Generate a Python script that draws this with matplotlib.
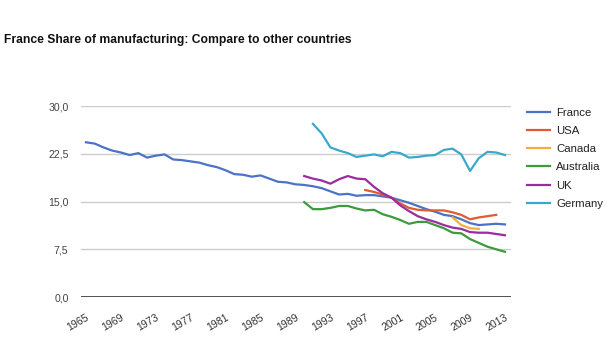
import matplotlib
matplotlib.use("Agg")
import matplotlib.pyplot as plt
from matplotlib.lines import Line2D
from matplotlib.ticker import FuncFormatter

plt.rcParams['font.family'] = ['Liberation Sans', 'DejaVu Sans']

# Manufacturing share of value added (%), by year
france_years = list(range(1965, 2014))
france = [24.3, 24.1, 23.5, 23.0, 22.7, 22.3, 22.6, 21.9, 22.2, 22.4,
          21.6, 21.5, 21.3, 21.1, 20.7, 20.4, 19.9, 19.3, 19.2, 18.9,
          19.1, 18.6, 18.1, 18.0, 17.7, 17.6, 17.4, 17.1, 16.6, 16.1,
          16.2, 15.9, 16.0, 16.0, 15.8, 15.6, 15.2, 14.8, 14.3, 13.8,
          13.4, 12.9, 12.7, 12.2, 11.6, 11.3, 11.4, 11.5, 11.4]

usa_years = list(range(1997, 2013))
usa = [16.8, 16.5, 16.1, 15.6, 14.7, 14.0, 13.7, 13.6, 13.6, 13.6,
       13.3, 12.9, 12.2, 12.5, 12.7, 12.9]

canada_years = list(range(2007, 2011))
canada = [12.5, 11.3, 10.8, 10.7]

australia_years = list(range(1990, 2014))
australia = [14.9, 13.8, 13.8, 14.0, 14.3, 14.3, 13.9, 13.6, 13.7, 13.0,
             12.6, 12.1, 11.5, 11.8, 11.8, 11.3, 10.8, 10.1, 10.0, 9.1,
             8.5, 7.9, 7.5, 7.1]

uk_years = list(range(1990, 2014))
uk = [19.0, 18.6, 18.3, 17.8, 18.5, 19.0, 18.6, 18.5, 17.3, 16.3,
      15.6, 14.4, 13.5, 12.7, 12.2, 11.8, 11.3, 10.9, 10.7, 10.2,
      10.1, 10.1, 9.9, 9.7]

germany_years = list(range(1991, 2014))
germany = [27.2, 25.7, 23.5, 23.0, 22.6, 22.0, 22.2, 22.4, 22.1, 22.8,
           22.6, 21.9, 22.0, 22.2, 22.3, 23.1, 23.3, 22.4, 19.8, 21.8,
           22.8, 22.7, 22.3]

series = [
    ("France", france_years, france, "#4a72c9"),
    ("USA", usa_years, usa, "#df5b31"),
    ("Canada", canada_years, canada, "#f5ad42"),
    ("Australia", australia_years, australia, "#3c9b3c"),
    ("UK", uk_years, uk, "#9b2ba0"),
    ("Germany", germany_years, germany, "#3aa8cd"),
]

fig = plt.figure(figsize=(6.16, 3.46), dpi=100)
ax = fig.add_axes([0.1315, 0.1416, 0.698, 0.552])

for name, yrs, vals, col in series:
    ax.plot(yrs, vals, color=col, lw=1.6, label=name, solid_joinstyle='round')

ax.set_xlim(1964.43, 2013.69)
ax.set_ylim(0, 30)
ax.set_yticks([0, 7.5, 15, 22.5, 30])
ax.yaxis.set_major_formatter(FuncFormatter(lambda v, p: f"{v:.1f}".replace('.', ',')))
ax.set_xticks(list(range(1965, 2014, 4)))
ax.grid(axis='y', color='#cccccc', lw=1)
ax.set_axisbelow(True)
ax.axhline(0, color='#333333', lw=1.2)
for s in ax.spines.values():
    s.set_visible(False)
ax.tick_params(axis='both', length=0, labelsize=7.6, labelcolor='#444444')
ax.tick_params(axis='y', pad=9)
for lbl in ax.get_xticklabels():
    lbl.set_rotation(30)
    lbl.set_ha('right')
    lbl.set_va('top')
    lbl.set_rotation_mode('anchor')
    lbl.set_color('#333333')
ax.tick_params(axis='x', pad=11)

# legend on the right
handles = [Line2D([], [], color=c, lw=1.6) for _, _, _, c in series]
labels = [n for n, _, _, _ in series]
fig.legend(handles, labels, loc='upper left', bbox_to_anchor=(0.846, 0.705),
           frameon=False, fontsize=8.2, handlelength=2.0, handletextpad=0.6,
           labelspacing=0.72, borderpad=0, labelcolor='#222222')

fig.text(0.006, 0.885, "France Share of manufacturing: Compare to other countries",
         fontsize=8.7, fontweight='bold', color='#111111', va='center', ha='left')

fig.savefig("out.png", dpi=100, facecolor='white')
